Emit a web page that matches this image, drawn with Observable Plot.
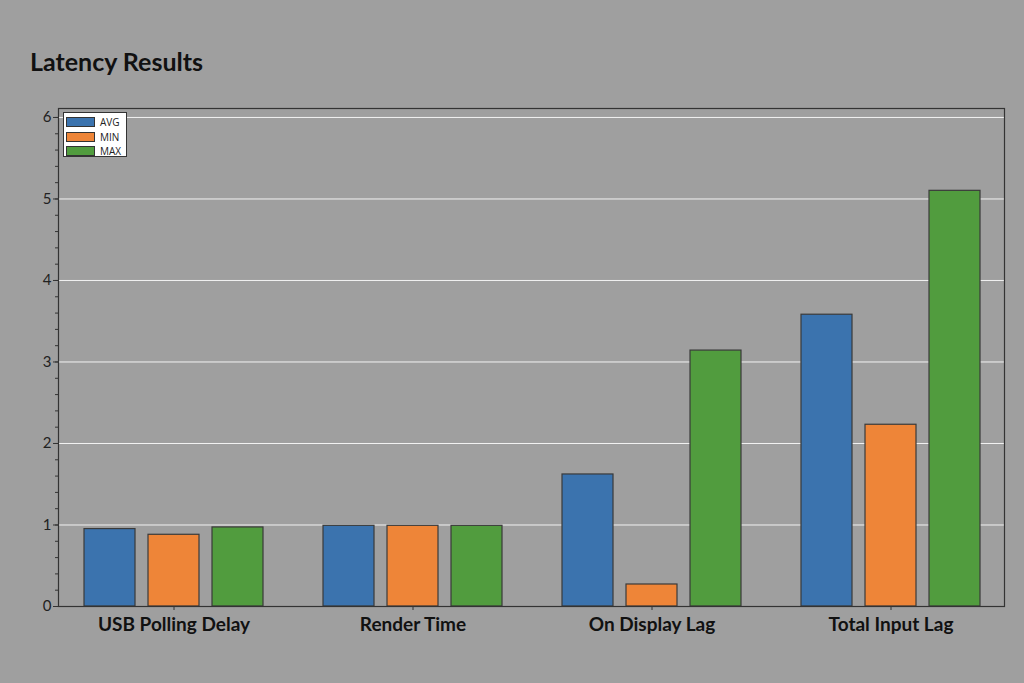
<!DOCTYPE html>
<html><head><meta charset="utf-8">
<script src="https://cdn.jsdelivr.net/npm/d3@7"></script>
<script src="https://cdn.jsdelivr.net/npm/@observablehq/plot@0.6"></script>
<style>
html,body{margin:0;padding:0;background:#9f9f9f;}
#wrap{position:relative;width:1024px;height:683px;overflow:hidden;font-family:Lato,"Open Sans",sans-serif;}
#title{height:90px;box-sizing:border-box;padding:46px 0 0 30px;font-size:25px;font-weight:bold;color:#111;line-height:30px;}
#legend{position:absolute;left:63px;top:112px;width:64px;padding:2px 0 2px 0;background:#fff;border:1px solid #333;box-sizing:border-box;height:45px;font-family:"Open Sans",sans-serif;font-size:10px;color:#222;}
#legend .row{display:flex;align-items:center;height:14.5px;padding-left:2px;}
#legend .sw{width:27px;height:8px;border:1px solid #333;margin-right:5px;}
svg g[aria-label="x-axis tick label"] text{font-weight:bold;}
</style></head>
<body><div id="wrap"><div id="title">Latency Results</div><div id="chart"></div><div id="legend"></div></div>
<script>
const categories = ["USB Polling Delay","Render Time","On Display Lag","Total Input Lag"];
const series = ["AVG","MIN","MAX"];
const avgValues = [0.95, 0.99, 1.62, 3.58];
const minValues = [0.88, 0.99, 0.27, 2.23];
const maxValues = [0.97, 0.99, 3.14, 5.10];
const yTicks = [0,1,2,3,4,5,6];
const colors = ["#3b73ae","#ee8538","#519c3e"];

const seriesValues = [avgValues, minValues, maxValues];
const table = [];
series.forEach((s, si) => categories.forEach((c, ci) => table.push({category: c, series: s, value: seriesValues[si][ci]})));

const insets = {AVG: [0, 128], MIN: [64, 64], MAX: [128, 0]};
const barMarks = series.map(s => Plot.barY(table.filter(d => d.series === s), {
  x: "category", y: "value", fill: "series", stroke: "#3a3a3a", strokeWidth: 1.2,
  insetLeft: insets[s][0], insetRight: insets[s][1]
}));

const plot = Plot.plot({
  width: 1024, height: 593,
  marginLeft: 58, marginRight: 20, marginTop: 18, marginBottom: 77,
  style: {background: "transparent", color: "#222", fontFamily: "Lato, 'Open Sans', sans-serif"},
  x: {domain: categories, range: [53.25, 1011.25], paddingInner: 0.2526, paddingOuter: 0.1263, label: null},
  y: {domain: [0, 6.11], label: null},
  color: {domain: series, range: colors},
  marks: [
    Plot.gridY(yTicks.slice(1), {stroke: "#f2f2f2", strokeOpacity: 1, strokeWidth: 1}),
    ...barMarks,
    Plot.axisY({ticks: 30, tickSize: 3, tickFormat: () => "", stroke: "#333"}),
    Plot.axisY({ticks: yTicks, tickFormat: "d", tickSize: 5, tickPadding: 2, fontSize: 15, stroke: "#333", fill: "#222"}),
    Plot.axisX({tickSize: 4, tickPadding: 7, fontSize: 19, fill: "#111", stroke: "#333"}),
    Plot.frame({stroke: "#333", strokeWidth: 1.2})
  ]
});
document.getElementById("chart").appendChild(plot);

const legend = document.getElementById("legend");
series.forEach((s, i) => {
  const row = document.createElement("div"); row.className = "row";
  const sw = document.createElement("div"); sw.className = "sw"; sw.style.background = colors[i];
  const lb = document.createElement("span"); lb.textContent = s;
  row.appendChild(sw); row.appendChild(lb); legend.appendChild(row);
});
</script></body></html>
